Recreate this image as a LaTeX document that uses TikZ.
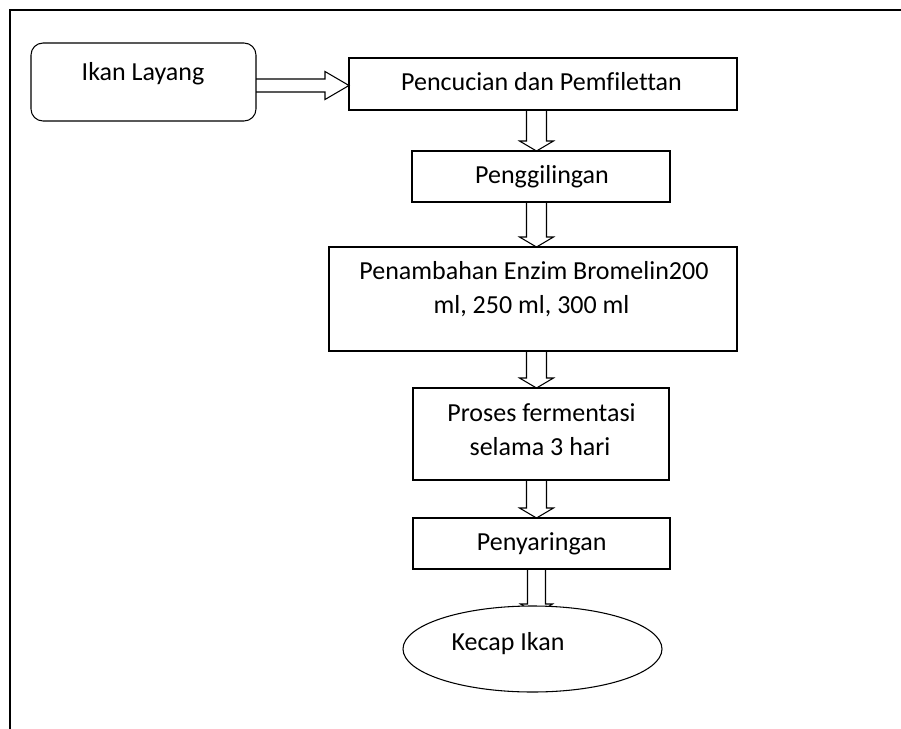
\documentclass[tikz,border=0pt]{standalone}
\usepackage{fontspec}
\setmainfont{Carlito}[Ligatures=CommonOff]
\usetikzlibrary{calc,shapes.geometric}
\tikzset{
  box/.style={draw,line width=0.8pt,inner sep=0pt,outer sep=0pt,fill=white},
  txt/.style={inner sep=0pt,outer sep=0pt,anchor=base,font=\fontsize{19.5}{25.5}\selectfont},
  barrow/.style={draw,line width=0.8pt,line join=miter},
  framel/.style={line width=1.1pt}
}
\begin{document}
\begin{tikzpicture}[x=0.75pt,y=-0.75pt]
\useasboundingbox (0,0) rectangle (901,729);
% frame
\coordinate (fo) at (10,10);
\coordinate (fr) at (901,10);
\coordinate (fb) at (10,729);
\draw[framel] (fr) -- (fo) -- (fb);
% boxes
\node[box,rounded corners=9pt,minimum width=168.75pt,minimum height=58.5pt] (ikan) at (143.5,82) {};
\node[box,minimum width=291pt,minimum height=39pt] (b1) at (543,84) {};
\node[box,minimum width=193.5pt,minimum height=38.25pt] (b2) at (541,176.5) {};
\node[box,minimum width=306pt,minimum height=78pt] (b3) at (533,299) {};
\node[box,minimum width=192pt,minimum height=69pt] (b4) at (541,434) {};
\node[box,minimum width=192.75pt,minimum height=38.25pt] (b5) at (541.5,543.5) {};
% texts
\node[txt] (t0) at (143,80) {Ikan Layang};
\node[txt] (t1) at (541.5,90) {Pencucian dan Pemfilettan};
\node[txt] (t2) at (542,183) {Penggilingan};
\node[txt] (t3a) at (534,279) {Penambahan Enzim Bromelin200};
\node[txt] (t3b) at (531.5,313) {ml, 250 ml, 300 ml};
\node[txt] (t4a) at (541.5,421) {Proses fermentasi};
\node[txt] (t4b) at (540,455) {selama 3 hari};
\node[txt] (t5) at (541.7,550) {Penyaringan};
% arrows
\coordinate (ax) at (536.5,0);
\coordinate (hy) at (0,85.5);
\draw[barrow] ($(ikan.east |- hy)+(0,-6.5)$) -- ($(b1.west |- hy)+(-24,-6.5)$) -- ($(b1.west |- hy)+(-24,-14)$) -- (b1.west |- hy) -- ($(b1.west |- hy)+(-24,14)$) -- ($(b1.west |- hy)+(-24,6.5)$) -- ($(ikan.east |- hy)+(0,6.5)$);
\foreach \s/\t in {b1/b2,b2/b3,b3/b4,b4/b5}{
  \draw[barrow] ($(ax |- \s.south)+(-10,0)$) -- ($(ax |- \t.north)+(-10,-10)$) -- ($(ax |- \t.north)+(-17,-10)$) -- (ax |- \t.north) -- ($(ax |- \t.north)+(17,-10)$) -- ($(ax |- \t.north)+(10,-10)$) -- ($(ax |- \s.south)+(10,0)$);
}
\coordinate (etop) at (0,606);
\draw[barrow] ($(ax |- b5.south)+(-9,0)$) -- ($(ax |- etop)+(-9,-2)$) -- ($(ax |- etop)+(-16,-2)$) -- ($(ax |- etop)+(0,8)$) -- ($(ax |- etop)+(16,-2)$) -- ($(ax |- etop)+(9,-2)$) -- ($(ax |- b5.south)+(9,0)$);
\node[box,ellipse,minimum width=194.25pt,minimum height=64.5pt] (ell) at (532.5,649) {};
\node[txt] (t6) at (508,650) {Kecap Ikan};
\end{tikzpicture}
\end{document}
